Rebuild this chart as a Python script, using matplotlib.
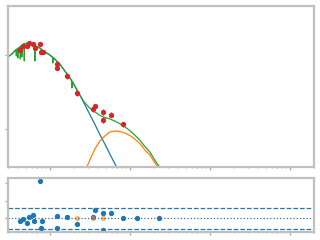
import matplotlib
matplotlib.use("Agg")
import matplotlib.pyplot as plt

# total model (green), with a few narrow absorption dips
green_x = [2.99, 3.35, 3.76, 3.791, 3.813, 3.835, 3.958, 3.981, 4.004, 4.22, 4.255, 4.279, 4.304,
           4.442, 4.467, 4.493, 4.73, 4.772, 4.800, 4.828, 5.31, 5.96, 6.457, 6.494, 6.531, 6.68,
           7.50, 8.66, 10.0, 10.84, 10.90, 11.09, 11.5, 12.52, 12.59, 12.81, 13.3, 15.4, 17.8,
           18.73, 18.84, 19.17, 20.5, 23.7, 25.8, 27.4, 31.6, 36.5, 42.2, 48.7, 56.2, 64.9,
           75.0, 86.6, 100, 115, 133, 154, 178, 205, 224, 244]
green_y = [9.40, 10.3, 11.7, 11.8, 9.69, 11.8, 12.2, 9.11, 12.2, 12.8, 13.0, 8.83, 13.0,
           13.4, 9.40, 13.4, 14.1, 14.1, 8.29, 14.1, 14.5, 14.1, 13.4, 8.29, 13.4, 13.2,
           12.4, 11.0, 10.0, 9.28, 7.80, 9.20, 8.83, 8.04, 6.88, 7.95, 7.56, 6.08, 4.89,
           4.48, 3.58, 4.40, 3.81, 2.88, 2.47, 2.25, 1.92, 1.70, 1.53, 1.43, 1.37, 1.28,
           1.18, 1.07, 0.95, 0.83, 0.71, 0.58, 0.49, 0.38, 0.33, 0.29]

# first component (blue)
blue_x = [2.99, 3.35, 3.76, 4.22, 4.73, 5.31, 5.96, 6.68, 7.50, 8.66, 10.0, 11.5, 13.3,
          15.4, 17.8, 20.5, 23.7, 27.4, 31.6, 36.5, 42.2, 48.7, 56.2, 68.8]
blue_y = [9.40, 10.3, 11.7, 12.8, 14.1, 14.5, 14.1, 13.2, 12.4, 11.0, 10.0, 8.83, 7.56,
          6.08, 4.89, 3.81, 2.88, 2.13, 1.57, 1.16, 0.843, 0.627, 0.459, 0.301]

# second component (orange)
orange_x = [28.6, 29.0, 31.6, 36.5, 42.2, 48.7, 56.2, 64.9, 75.0, 86.6, 100, 115, 133,
            154, 178, 205, 224]
orange_y = [0.288, 0.307, 0.381, 0.537, 0.689, 0.804, 0.911, 0.939, 0.925, 0.883, 0.817,
            0.733, 0.637, 0.520, 0.445, 0.347, 0.307]

# observed points
obs_x = [4.22, 4.60, 5.16, 5.46, 6.13, 6.49, 7.50, 7.72, 8.18, 12.2, 12.2, 16.3, 21.7,
         34.5, 36.5, 46.0, 57.9, 46.0, 81.8]
obs_y = [11.7, 13.2, 13.2, 14.5, 14.1, 12.4, 14.1, 11.0, 11.0, 7.56, 6.67, 5.20, 3.07,
         1.86, 2.05, 1.70, 1.55, 1.32, 1.17]
obs_err = [0.8, 0.9, 0.9, 1.0, 1.0, 0.9, 1.0, 0.8, 0.8, 0.6, 0.5, 0.45, 0.25,
           0.15, 0.15, 0.14, 0.12, 0.11, 0.09]

# residuals
res_x = [7.50, 4.22, 4.60, 5.16, 5.46, 6.13, 6.31, 7.94, 7.72, 12.2, 12.2, 16.3, 21.7,
         34.5, 36.5, 46.0, 46.0, 57.9, 81.8, 122, 230]
res_y = [2.11, -0.17, -0.06, -0.29, 0.06, 0.17, -0.17, -0.17, -0.57, 0.11, -0.57, 0.06, -0.34,
         0.06, 0.46, 0.29, -0.69, 0.29, 0.0, 0.0, 0.0]
lim_x = [21.7, 34.5, 46.0]
lim_y = [0.0, 0.0, 0.0]
res_levels = [0.57, 0.0, -0.63]

spine_col = '#c0c0c0'
tick_col = '#aaaaaa'

fig = plt.figure(figsize=(3.2, 2.4), dpi=100)
ax = fig.add_axes([0.025, 0.304, 0.956, 0.671])
ax2 = fig.add_axes([0.025, 0.033, 0.956, 0.225])

ax.plot(blue_x, blue_y, color='tab:blue', lw=0.9)
ax.plot(orange_x, orange_y, color='tab:orange', lw=0.9)
ax.plot(green_x, green_y, color='tab:green', lw=0.9)
ax.errorbar(obs_x, obs_y, yerr=obs_err, fmt='o', color='tab:red', ms=2.8,
            elinewidth=0.8, capsize=0)
ax.set_xscale('log')
ax.set_yscale('log')
ax.set_xlim(3, 2e4)
ax.set_ylim(0.306, 45.9)

ax2.plot(res_x, res_y, 'o', color='tab:blue', ms=2.8)
ax2.plot(lim_x, lim_y, 'o', color='tab:orange', ms=2.8, alpha=0.5)
ax2.axhline(res_levels[0], color='tab:blue', ls='--', lw=0.9)
ax2.axhline(res_levels[1], color='tab:blue', ls=':', lw=0.9)
ax2.axhline(res_levels[2], color='tab:blue', ls='--', lw=0.9)
ax2.set_xscale('log')
ax2.set_xlim(3, 2e4)
ax2.set_ylim(-0.8, 2.29)
ax2.set_yticks([0, 1, 2])

for a in (ax, ax2):
    for s in a.spines.values():
        s.set_color(spine_col)
        s.set_linewidth(1.6)
    a.tick_params(which='major', length=2, width=1, color=tick_col,
                  labelbottom=False, labelleft=False)
    a.tick_params(which='minor', length=1, width=0.8, color=tick_col,
                  labelbottom=False, labelleft=False)

fig.savefig('out.png', dpi=100)
